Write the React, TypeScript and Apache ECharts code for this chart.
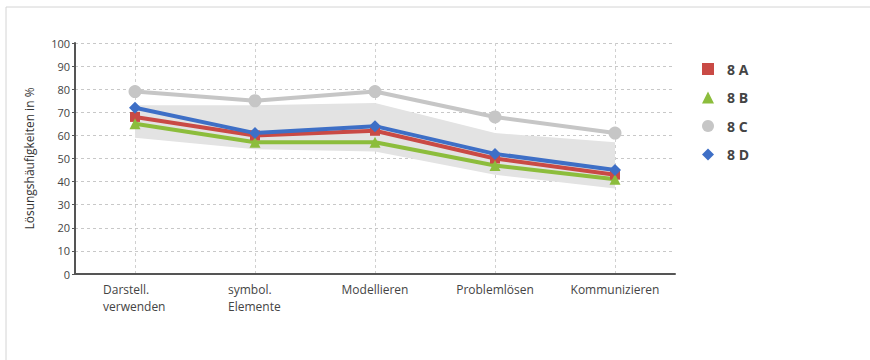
import React, { useEffect, useRef } from "react";
import * as echarts from "echarts";

const categories = ["Darstell.\nverwenden", "symbol.\nElemente", "Modellieren", "Problemlösen", "Kommunizieren"];
const s8A = [68, 60, 62, 50, 43];
const s8B = [65, 57, 57, 47, 41];
const s8C = [79, 75, 79, 68, 61];
const s8D = [72, 61, 64, 52, 45];
const bandLow = [59, 54, 53, 43, 37];
const bandHigh = [73, 73, 74, 61, 57];
const yTicks = { min: 0, max: 100, interval: 10 };
const yName = "Lösungshäufigkeiten in %";
const legendNames = ["8 A", "8 B", "8 C", "8 D"];

const FONT = "Open Sans";

export default function App() {
  const ref = useRef<HTMLDivElement>(null);
  useEffect(() => {
    const chart = echarts.init(ref.current!, null, { renderer: "svg" });
    const lineSeries = (name: string, data: number[], color: string, symbol: string, size: number) => ({
      name,
      type: "line",
      data,
      symbol,
      symbolSize: size,
      showSymbol: true,
      lineStyle: { color, width: 4 },
      itemStyle: { color },
      z: 3,
    });
    const labelFmt = (v: string) => {
      const lines = v.split("\n");
      if (lines.length === 1) return `{c|${v}}`;
      const key = lines[0].startsWith("D") ? "a" : "b";
      return lines.map((l) => `{${key}|${l}}`).join("\n");
    };
    const baseRich = { fontSize: 12, color: "#444", fontFamily: FONT, lineHeight: 17 };
    chart.setOption({
      animation: false,
      textStyle: { fontFamily: FONT },
      graphic: [
        {
          type: "rect",
          shape: { x: 6, y: 7, width: 900, height: 400 },
          style: { fill: "none", stroke: "#d4d4d4", lineWidth: 1 },
          silent: true,
        },
      ],
      grid: { left: 75, right: 195, top: 43, bottom: 86 },
      legend: {
        orient: "vertical",
        left: 697,
        top: 57,
        itemWidth: 12,
        itemHeight: 12,
        itemGap: 14.5,
        data: [
          { name: legendNames[0], icon: "rect" },
          { name: legendNames[1], icon: "triangle" },
          { name: legendNames[2], icon: "circle" },
          { name: legendNames[3], icon: "diamond" },
        ],
        textStyle: { fontSize: 14, fontWeight: "bold", color: "#444", fontFamily: FONT, padding: [0, 0, 0, 8] },
      },
      xAxis: {
        type: "category",
        data: categories,
        boundaryGap: true,
        axisLine: { lineStyle: { color: "#555", width: 2 } },
        axisTick: { alignWithLabel: true, length: 3, lineStyle: { color: "#555" } },
        axisLabel: {
          interval: 0,
          hideOverlap: false,
          color: "#444",
          fontSize: 12,
          fontFamily: FONT,
          lineHeight: 17,
          margin: 7,
          formatter: labelFmt,
          rich: {
            a: { ...baseRich, width: 64, align: "left" },
            b: { ...baseRich, width: 54, align: "left" },
            c: { ...baseRich },
          },
        },
        splitLine: { show: true, alignWithLabel: true, lineStyle: { color: "#d0d0d0", type: [3, 3] } },
      },
      yAxis: {
        type: "value",
        min: yTicks.min,
        max: yTicks.max,
        interval: yTicks.interval,
        name: yName,
        nameLocation: "middle",
        nameGap: 40,
        nameTextStyle: { fontSize: 12, color: "#333", fontFamily: FONT },
        axisLine: { show: true, lineStyle: { color: "#555", width: 2 } },
        axisTick: { show: true, length: 3, lineStyle: { color: "#555" } },
        axisLabel: { color: "#444", fontSize: 11, fontFamily: FONT, margin: 5 },
        splitLine: { show: true, lineStyle: { color: "#c8c8c8", type: [3, 3] } },
      },
      series: [
        {
          name: "bandLow",
          type: "line",
          data: bandLow,
          stack: "band",
          symbol: "none",
          lineStyle: { opacity: 0 },
          silent: true,
          z: 1,
        },
        {
          name: "bandRange",
          type: "line",
          data: bandHigh.map((v, i) => v - bandLow[i]),
          stack: "band",
          symbol: "none",
          lineStyle: { opacity: 0 },
          areaStyle: { color: "#e3e3e3", opacity: 1 },
          silent: true,
          z: 1,
        },
        lineSeries("8 C", s8C, "#c6c6c6", "circle", 13),
        lineSeries("8 A", s8A, "#c94a45", "rect", 10),
        lineSeries("8 B", s8B, "#8cbd3c", "triangle", 11),
        lineSeries("8 D", s8D, "#3e6fc6", "diamond", 12),
      ],
    });
    return () => chart.dispose();
  }, []);
  return (
    <div
      ref={ref}
      style={{ position: "fixed", left: 0, top: 0, width: 870, height: 360, background: "#fff" }}
    />
  );
}
